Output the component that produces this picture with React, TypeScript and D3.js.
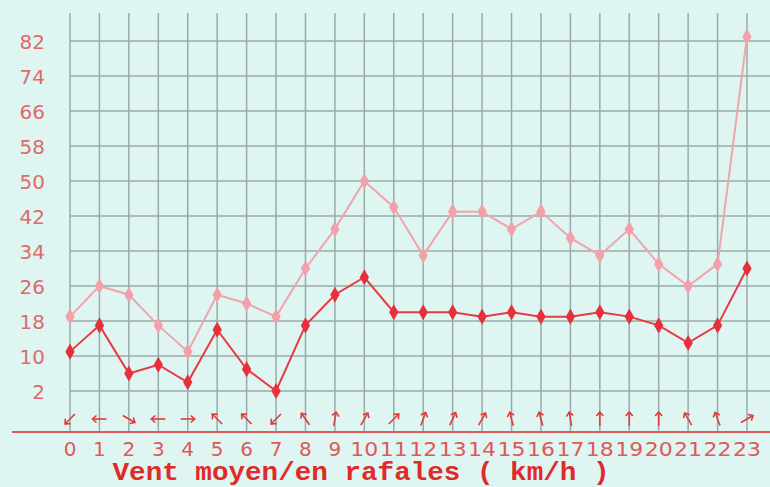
import * as d3 from "d3";

const hours = d3.range(0, 24);
const gusts = [19, 26, 24, 17, 11, 24, 22, 19, 30, 39, 50, 44, 33, 43, 43, 39, 43, 37, 33, 39, 31, 26, 31, 83];
const mean = [11, 17, 6, 8, 4, 16, 7, 2, 17, 24, 28, 20, 20, 20, 19, 20, 19, 19, 20, 19, 17, 13, 17, 30];
// arrow heading in degrees, 0 = up, clockwise
const windDir = [225, 270, 120, 270, 90, 315, 315, 225, 325, 10, 30, 45, 20, 25, 30, 345, 345, 350, 0, 0, 0, 330, 340, 60];
const yTicks = [2, 10, 18, 26, 34, 42, 50, 58, 66, 74, 82];

const W = 770;
const H = 487;

export default function App() {
  const x = d3.scaleLinear().domain([0, 23]).range([70, 747]);
  const y = d3.scaleLinear().domain([2, 82]).range([391, 41]);
  const axisY = 432;
  const gridTop = 13;

  const line = d3
    .line<number>()
    .x((_, i) => x(hours[i]))
    .y(d => y(d));

  const diamond = d3.symbol(d3.symbolDiamond, 75)();

  return (
    <div style={{ position: "fixed", left: 0, top: 0 }}>
      <svg width={W} height={H} style={{ display: "block" }}>
        <rect width={W} height={H} fill="#def5f1" />

        {/* grid */}
        <g stroke="#98aba9" strokeWidth={1.5}>
          {yTicks.map(t => (
            <line key={t} x1={x(0)} x2={W} y1={y(t)} y2={y(t)} />
          ))}
          {hours.map(h => (
            <line key={h} x1={x(h)} x2={x(h)} y1={gridTop} y2={axisY} />
          ))}
        </g>

        {/* y labels */}
        <g fill="#e06a6a" fontFamily="DejaVu Sans" fontSize={20} textAnchor="end">
          {yTicks.map(t => (
            <text key={t} x={45} y={y(t) + 8}>{t}</text>
          ))}
        </g>

        {/* gusts */}
        <path d={line(gusts) || ""} fill="none" stroke="#f2a4ac" strokeWidth={2} />
        {gusts.map((v, i) => (
          <path key={i} d={diamond} transform={`translate(${x(hours[i])},${y(v)})`} fill="#f2a0aa" />
        ))}

        {/* mean */}
        <path d={line(mean) || ""} fill="none" stroke="#e83a44" strokeWidth={2} />
        {mean.map((v, i) => (
          <path key={i} d={diamond} transform={`translate(${x(hours[i])},${y(v)})`} fill="#e8303c" />
        ))}

        {/* wind arrows */}
        <g stroke="#e03a3a" strokeWidth={1.6} fill="none">
          {windDir.map((a, i) => (
            <g key={i} transform={`translate(${x(hours[i])},419) rotate(${a})`}>
              <line x1={0} y1={7} x2={0} y2={-7} />
              <path d="M-3.5,-3 L0,-7 L3.5,-3" />
            </g>
          ))}
        </g>

        {/* x axis */}
        <line x1={12} x2={W} y1={axisY} y2={axisY} stroke="#e05a5a" strokeWidth={2} />
        <g fill="#e05858" fontFamily="DejaVu Sans" fontSize={20} textAnchor="middle">
          {hours.map(h => (
            <text key={h} x={x(h)} y={456} textLength={h >= 10 ? 28 : undefined} lengthAdjust="spacingAndGlyphs">
              {h}
            </text>
          ))}
        </g>

        <text
          x={361}
          y={480}
          textAnchor="middle"
          fill="#e02a2a"
          fontFamily="Liberation Mono"
          fontWeight="bold"
          fontSize={25}
          textLength={497}
          lengthAdjust="spacingAndGlyphs"
        >
          Vent moyen/en rafales ( km/h )
        </text>
      </svg>
    </div>
  );
}
